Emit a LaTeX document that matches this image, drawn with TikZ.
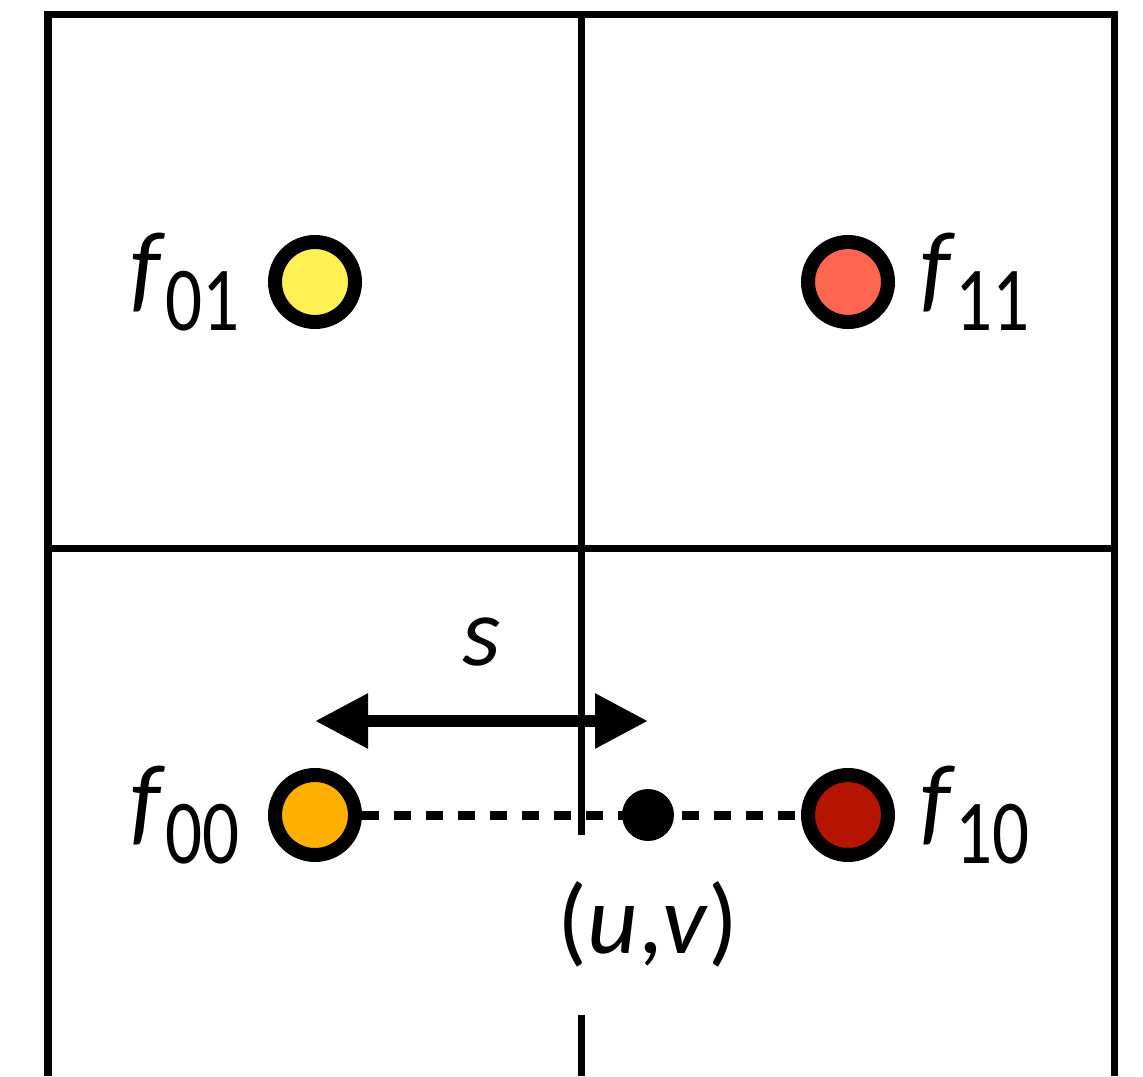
\documentclass[tikz,border=0pt]{standalone}
\usepackage{fontspec}
\setmainfont{Carlito}
\newfontfamily\subfont[FakeStretch=0.8]{Carlito}
\usepackage{xcolor}
\usepackage{tikz}
\usetikzlibrary{arrows.meta,positioning}
\definecolor{fyellow}{HTML}{FFF055}
\definecolor{fsalmon}{HTML}{FF6651}
\definecolor{forange}{HTML}{FFAF00}
\definecolor{fdarkred}{HTML}{B51500}
\newcommand{\fsub}[1]{\textit{f}\raisebox{-0.30cm}{\subfont\fontsize{26}{30}\selectfont #1}}

\begin{document}
\begin{tikzpicture}[
  font=\fontsize{28}{34}\selectfont, >={Triangle[length=0.53cm,width=0.52cm]},
  grid/.style={line width=0.07cm},
  sample/.style={circle, draw, line width=0.14cm, minimum size=0.80cm, inner sep=0pt},
  lbl/.style={inner sep=0pt}]
\useasboundingbox (0,0) rectangle (11.43,10.76);
% cells
\draw[grid] (0.48,0) -- (0.48,10.61) -- (11.14,10.61) -- (11.14,0);
\draw[grid] (0.48,5.28) -- (11.14,5.28);
\draw[grid] (5.81,10.61) -- (5.81,2.41);
\draw[grid] (5.81,0.61) -- (5.81,0);
% samples
\node[sample, fill=fyellow] (f01) at (3.15,7.94) {};
\node[sample, fill=fsalmon] (f11) at (8.48,7.94) {};
\node[sample, fill=forange] (f00) at (3.15,2.61) {};
\node[sample, fill=fdarkred] (f10) at (8.48,2.61) {};
\node[lbl, left=0.28cm of f01] (l01) {\fsub{01}};
\node[lbl, right=0.25cm of f11] (l11) {\fsub{11}};
\node[lbl, left=0.28cm of f00] (l00) {\fsub{00}};
\node[lbl, right=0.25cm of f10] (l10) {\fsub{10}};
\draw[line width=0.09cm, dash pattern=on 0.17cm off 0.15cm] (f00) -- (f10);
\node[circle, fill, minimum size=0.52cm, inner sep=0pt] (uv) at (6.48,2.61) {};
\node[lbl, below=0.39cm of uv] (uvlabel) {(\textit{u},\textit{v})};
% offset
\coordinate (sl) at (f00.center |- 0,3.55);
\coordinate (sr) at (uv.center |- sl);
\draw[<->, line width=0.12cm] (sl) -- (sr) node[lbl, midway, above=0.49cm] (slabel) {\textit{s}};
\end{tikzpicture}
\end{document}
